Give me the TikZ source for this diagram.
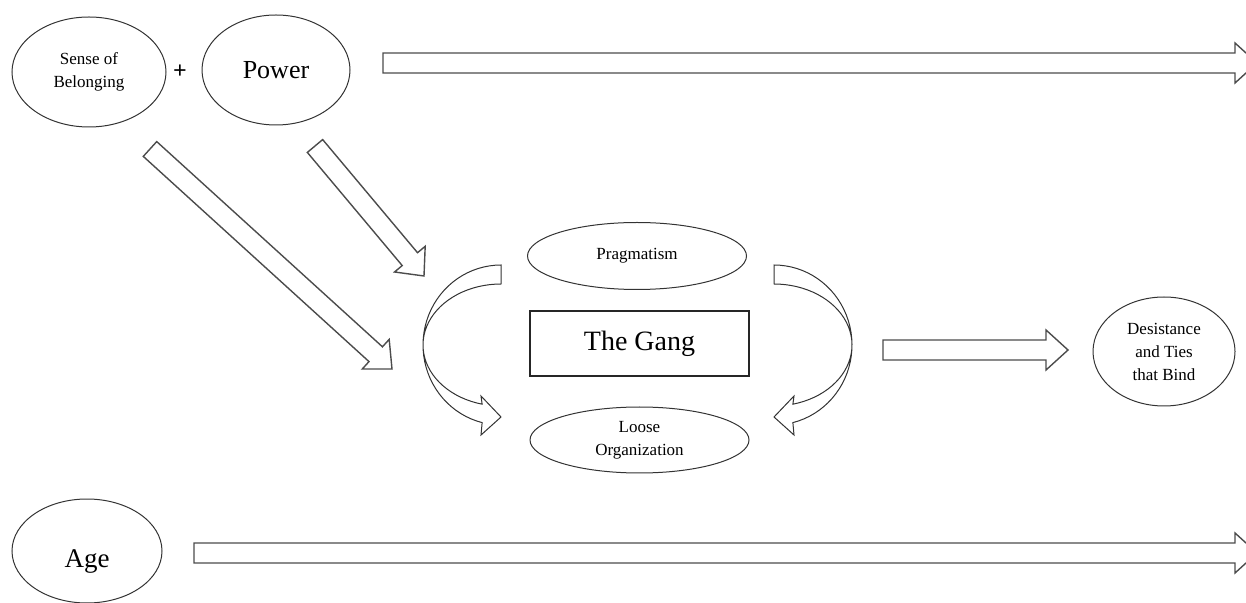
\documentclass[tikz,border=0pt]{standalone}
\usepackage{fontspec}
\setmainfont{Liberation Serif}
\usetikzlibrary{calc,shapes.geometric}

\newcommand{\blockarrow}[2]{%
  \coordinate (hb) at ($(#2)!11pt!(#1)$);
  \draw[blockline] ($(#1)!5pt!90:(#2)$) -- ($(hb)!5pt!90:(#2)$) -- ($(hb)!10pt!90:(#2)$)
    -- (#2) -- ($(hb)!10pt!-90:(#2)$) -- ($(hb)!5pt!-90:(#2)$) -- ($(#1)!5pt!-90:(#2)$) -- cycle;}

\begin{document}
\begin{tikzpicture}[x=0.5pt,y=-0.5pt,
  oval/.style={ellipse,draw=black!80,line width=0.5pt,inner sep=0pt,align=center},
  smalltext/.style={font=\fontsize{8.5}{11.5}\selectfont},
  blockline/.style={draw=black!70,line width=0.7pt,fill=white},
  curveline/.style={draw=black!80,line width=0.5pt}]
	\useasboundingbox (0,0) rectangle (1246,603);
	% top row
	\node[oval,minimum width=77pt,minimum height=55pt,smalltext] (belong) at (89,72) {Sense of\\Belonging};
	\node[font=\fontsize{12}{14}\selectfont\bfseries] (plus) at (180,72) {+};
	\node[oval,minimum width=74pt,minimum height=55pt,font=\fontsize{13}{15}\selectfont] (power) at (276,70) {Power};
	% centre
	\node[oval,minimum width=109.5pt,minimum height=33.5pt,smalltext] (prag) at (637,256) {Pragmatism};
	\node[draw=black!85,line width=0.6pt,minimum width=109.5pt,minimum height=32.5pt,font=\fontsize{14}{16}\selectfont] (gang) at (639.5,343.5) {The Gang};
	\node[oval,minimum width=109.5pt,minimum height=33pt,smalltext] (loose) at (639.5,440) {Loose\\Organization};
	\node[oval,minimum width=71pt,minimum height=54.5pt,smalltext] (desist) at (1164,351.5) {Desistance\\and Ties\\that Bind};
	% bottom row
	\node[oval,minimum width=75pt,minimum height=52pt,font=\fontsize{13.5}{16}\selectfont,text height=19pt,text depth=3pt] (age) at (87,551) {Age};
	% block arrows
	\coordinate (top-tail) at (383,63);
	\coordinate (top-tip) at (1257,63);
	\coordinate (age-tail) at (194,553);
	\coordinate (age-tip) at (1257,553);
	\coordinate (belong-tail) at (150,149);
	\coordinate (belong-tip) at (392,369);
	\coordinate (power-tail) at (315,146);
	\coordinate (power-tip) at (424,276);
	\coordinate (gang-tail) at (883,350);
	\coordinate (gang-tip) at (1068,350);
	\blockarrow{top-tail}{top-tip}
	\blockarrow{age-tail}{age-tip}
	\blockarrow{belong-tail}{belong-tip}
	\blockarrow{power-tail}{power-tip}
	\blockarrow{gang-tail}{gang-tip}
	% curved arrows round the gang
	\draw[curveline] (501,284) -- plot[domain=270:104,samples=40] ({501+78*cos(\x)},{345+80*sin(\x)})
		-- (481,435) -- (501,417) -- (481,396)
		-- plot[domain=104:270,samples=40] ({501+78*cos(\x)},{345+61*sin(\x)}) -- cycle;
	\draw[curveline] (774,283) -- plot[domain=-90:76,samples=40] ({774+78*cos(\x)},{345+80*sin(\x)})
		-- (794,435) -- (774,417) -- (794,396)
		-- plot[domain=76:-90,samples=40] ({774+78*cos(\x)},{345+61*sin(\x)}) -- cycle;
\end{tikzpicture}
\end{document}
